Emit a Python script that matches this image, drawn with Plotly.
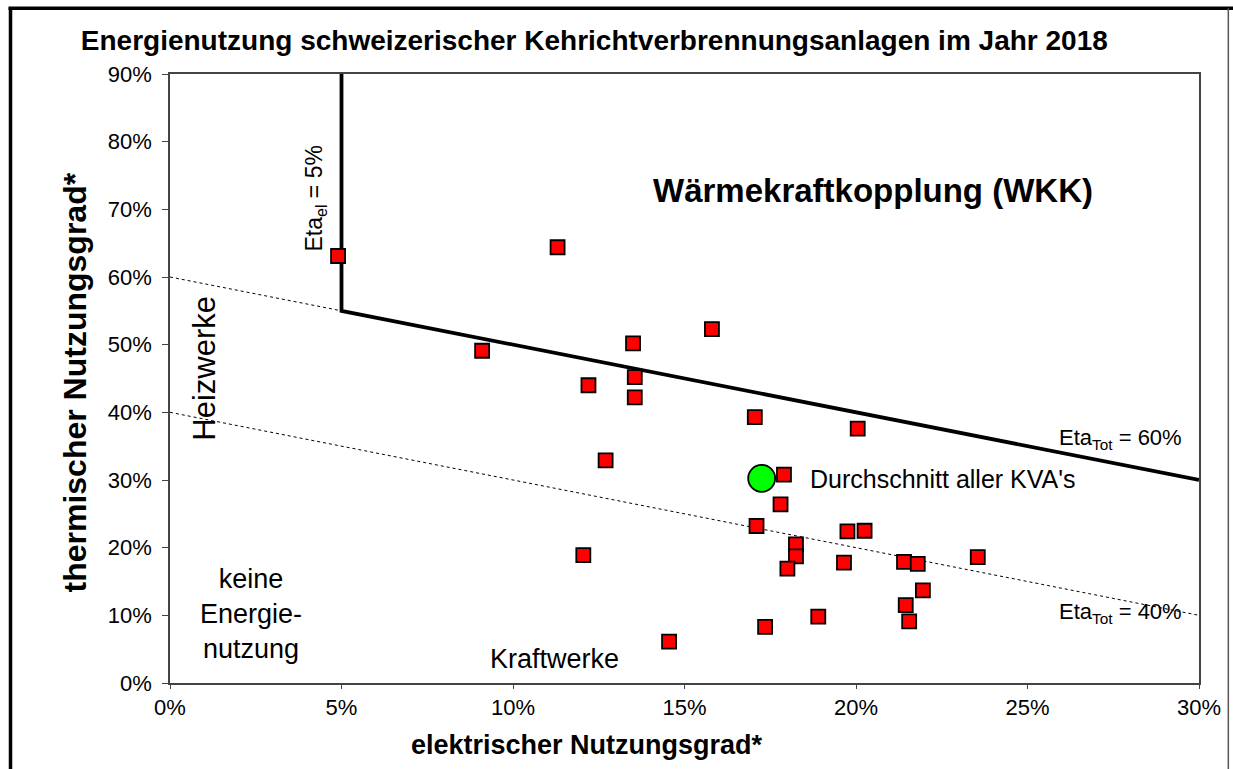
import plotly.graph_objects as go

# KVA data points (percent): electrical efficiency, thermal efficiency
eta_el = [4.9, 11.3, 9.1, 13.5, 15.8, 13.55, 12.2, 13.55, 17.05, 20.05, 12.7,
          17.9, 17.8, 17.1, 19.75, 20.25, 18.25, 18.25, 12.05, 18.0, 19.65,
          21.4, 21.8, 23.55, 21.95, 21.45, 21.55, 18.9, 17.35, 14.55]
eta_th = [63.1, 64.4, 49.1, 50.2, 52.3, 45.2, 44.0, 42.2, 39.3, 37.6, 32.9,
          30.8, 26.4, 23.2, 22.4, 22.5, 20.5, 18.7, 18.9, 16.9, 17.8,
          17.9, 17.6, 18.6, 13.7, 11.5, 9.1, 9.8, 8.3, 6.1]

# average of all plants
avg_el = [17.25]
avg_th = [30.25]

# reference lines (percent)
wkk_x = [5, 5, 30]          # Eta_el = 5% and Eta_Tot = 60% boundary
wkk_y = [90, 55, 30]
tot60_dot_x = [0, 5]
tot60_dot_y = [60, 55]
tot40_x = [0, 30]
tot40_y = [40, 10]

x_ticks = [0, 5, 10, 15, 20, 25, 30]
y_ticks = [0, 10, 20, 30, 40, 50, 60, 70, 80, 90]

FONT = "Arial, Liberation Sans, sans-serif"

fig = go.Figure()
fig.add_trace(go.Scatter(x=tot60_dot_x, y=tot60_dot_y, mode="lines",
                         line=dict(color="black", width=1, dash="dot"),
                         hoverinfo="skip", showlegend=False))
fig.add_trace(go.Scatter(x=tot40_x, y=tot40_y, mode="lines",
                         line=dict(color="black", width=1, dash="dot"),
                         hoverinfo="skip", showlegend=False))
fig.add_trace(go.Scatter(x=wkk_x, y=wkk_y, mode="lines",
                         line=dict(color="black", width=3.8),
                         hoverinfo="skip", showlegend=False))
fig.add_trace(go.Scatter(x=eta_el, y=eta_th, mode="markers",
                         marker=dict(symbol="square", size=14, color="#ff0000",
                                     line=dict(color="black", width=1.8)),
                         showlegend=False))
fig.add_trace(go.Scatter(x=avg_el, y=avg_th, mode="markers",
                         marker=dict(symbol="circle", size=27, color="#00ff00",
                                     line=dict(color="black", width=1.8)),
                         showlegend=False))

def f(size):
    return dict(family=FONT, size=size, color="black")

annotations = [
    dict(x=20.5, y=72.8, text="<b>Wärmekraftkopplung (WKK)</b>", font=f(33),
         xanchor="center", yanchor="middle"),
    dict(x=18.6, y=30.1, text="Durchschnitt aller KVA's", font=f(25),
         xanchor="left", yanchor="middle"),
    dict(x=25.85, y=36.0, text="Eta<sub>Tot</sub> = 60%", font=f(22),
         xanchor="left", yanchor="middle"),
    dict(x=25.85, y=10.3, text="Eta<sub>Tot</sub> = 40%", font=f(22),
         xanchor="left", yanchor="middle"),
    dict(x=11.2, y=3.6, text="Kraftwerke", font=f(27), xanchor="center", yanchor="middle"),
    dict(x=2.35, y=10.2, text="keine<br>Energie-<br>nutzung", font=f(27),
         xanchor="center", yanchor="middle"),
    dict(x=1.0, y=46.5, text="Heizwerke", font=f(31), textangle=-90,
         xanchor="center", yanchor="middle"),
    dict(x=4.25, y=71.7, text="Eta<sub>el</sub> = 5%", font=f(23),
         textangle=-90, xanchor="center", yanchor="middle"),
]
for a in annotations:
    a.update(xref="x", yref="y", showarrow=False)

# axis titles placed like in the original chart
annotations += [
    dict(xref="paper", yref="paper", x=0.405, y=-0.101, text="<b>elektrischer Nutzungsgrad*</b>",
         font=f(27), showarrow=False, xanchor="center", yanchor="middle"),
    dict(xref="paper", yref="paper", x=-0.092, y=0.494, text="<b>thermischer Nutzungsgrad*</b>",
         font=f(32), showarrow=False, xanchor="center", yanchor="middle", textangle=-90),
]

# outer frame of the chart area
shapes = [
    dict(type="line", xref="paper", yref="paper", x0=-0.155, x1=-0.155, y0=-0.2, y1=1.108,
         line=dict(color="black", width=3.5)),
    dict(type="line", xref="paper", yref="paper", x0=-0.157, x1=1.2, y0=1.108, y1=1.108,
         line=dict(color="black", width=3.5)),
    dict(type="line", xref="paper", yref="paper", x0=1.0285, x1=1.0285, y0=-0.2, y1=1.108,
         line=dict(color="#555555", width=1.5)),
]

fig.update_layout(
    width=1233, height=769,
    margin=dict(l=170, r=31, t=74, b=86),
    paper_bgcolor="white", plot_bgcolor="white",
    font=dict(family=FONT, color="black"),
    title=dict(text="<b>Energienutzung schweizerischer Kehrichtverbrennungsanlagen im Jahr 2018</b>",
               x=0.482, xanchor="center", y=0.948, yanchor="middle",
               font=f(28)),
    annotations=annotations,
    shapes=shapes,
    showlegend=False,
)
fig.update_xaxes(range=[0, 30], tickvals=x_ticks, ticktext=[f"{v}%" for v in x_ticks],
                 showgrid=False, zeroline=False, showline=True, linecolor="#444444", linewidth=1.5,
                 mirror=True, ticks="outside", ticklen=4, tickcolor="#444444",
                 tickfont=f(22))
fig.update_yaxes(range=[0, 90], tickvals=y_ticks, ticktext=[f"{v}%" for v in y_ticks],
                 showgrid=False, zeroline=False, showline=True, linecolor="#444444", linewidth=1.5,
                 mirror=True, ticks="outside", ticklen=6, tickcolor="#444444",
                 ticklabelstandoff=6, tickfont=f(22))

fig.write_html("out.html", config={"displayModeBar": False},
               post_script="document.body.style.margin='0';")
